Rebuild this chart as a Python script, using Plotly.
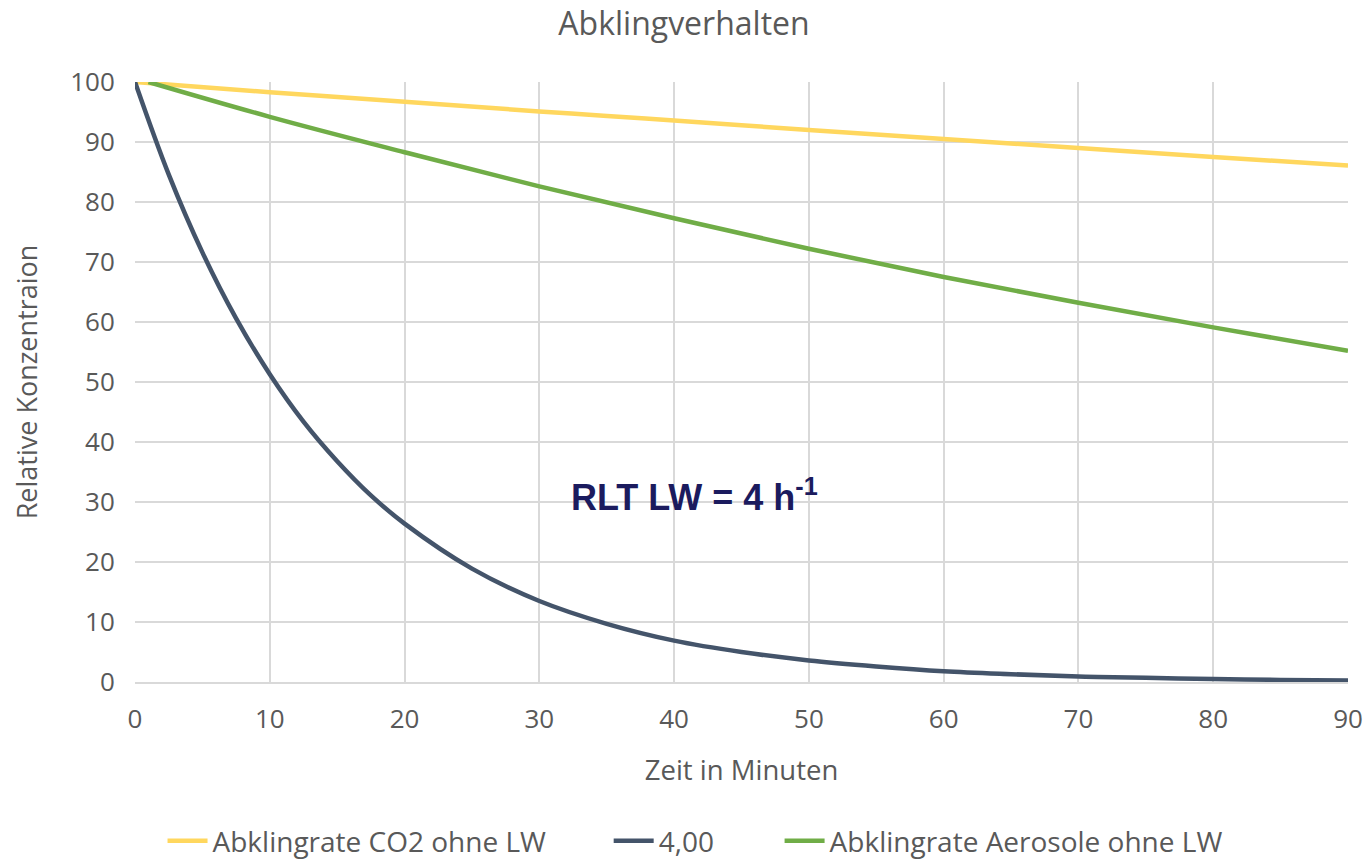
import plotly.graph_objects as go

# Data
x_co2 = [0, 10, 20, 30, 40, 50, 60, 70, 80, 90]
y_co2 = [100, 98.3, 96.7, 95.1, 93.6, 92.0, 90.5, 89.0, 87.5, 86.1]

x_dark = [0, 2.5, 5, 7.5, 10, 12.5, 15, 17.5, 20, 25, 30, 35, 40, 45, 50, 55, 60, 65, 70, 75, 80, 85, 90]
y_dark = [100, 84.6, 71.6, 60.6, 51.3, 43.4, 36.8, 31.1, 26.4, 18.9, 13.5, 9.7, 6.9, 5.0, 3.6, 2.6, 1.8, 1.3, 0.9, 0.7, 0.5, 0.35, 0.25]

x_aer = [1, 10, 20, 30, 40, 50, 60, 70, 80, 90]
y_aer = [100, 94.2, 88.3, 82.6, 77.3, 72.2, 67.5, 63.2, 59.1, 55.2]

names = ["Abklingrate CO2 ohne LW", "4,00", "Abklingrate Aerosole ohne LW"]
colors = ["#FFD75E", "#44546A", "#70AD47"]
legend_ids = ["legend", "legend2", "legend3"]
legend_x = [0.0227, 0.3905, 0.5314]

x_ticks = list(range(0, 91, 10))
y_ticks = list(range(0, 101, 10))

FONT = "'Open Sans', sans-serif"
GREY = "#595959"

fig = go.Figure()
for xs, ys, n, c, lg in zip([x_co2, x_dark, x_aer], [y_co2, y_dark, y_aer], names, colors, legend_ids):
    fig.add_trace(go.Scatter(x=xs, y=ys, mode="lines", name=n, legend=lg,
                             line=dict(color=c, width=4.5, shape="spline")))

fig.add_annotation(x=41.5, y=31.2, xref="x", yref="y",
                   text="<b>RLT LW = 4 h<sup>-1</sup></b>", showarrow=False,
                   font=dict(family="Arial, 'Liberation Sans', sans-serif", size=36, color="#1B1B5E"))

legend_common = dict(orientation="h", xanchor="left", y=-0.3067, yanchor="bottom",
                     font=dict(size=28, color=GREY, family=FONT), itemwidth=40,
                     bgcolor="rgba(0,0,0,0)")

fig.update_layout(
    width=1368, height=867,
    margin=dict(l=135, r=20, t=82, b=185, autoexpand=False),
    paper_bgcolor="white", plot_bgcolor="white",
    font=dict(family=FONT, color=GREY, size=26),
    title=dict(text="Abklingverhalten", x=0.5, xanchor="center", y=0.972, yanchor="middle",
               font=dict(size=32, color=GREY, family=FONT)),
    legend=dict(x=legend_x[0], **legend_common),
    legend2=dict(x=legend_x[1], **legend_common),
    legend3=dict(x=legend_x[2], **legend_common),
    showlegend=True,
)
fig.update_xaxes(range=[0, 90], tickvals=x_ticks, showgrid=True, gridcolor="#D9D9D9", gridwidth=1.5,
                 showline=True, linecolor="#D9D9D9", linewidth=1.5, zeroline=False, automargin=False,
                 ticks="outside", ticklen=13, tickcolor="rgba(0,0,0,0)",
                 tickfont=dict(size=26, color=GREY),
                 title=dict(text="Zeit in Minuten", font=dict(size=27.5, color=GREY), standoff=26))
fig.update_yaxes(range=[0, 100], tickvals=y_ticks, showgrid=True, gridcolor="#D9D9D9", gridwidth=1.5,
                 zeroline=False, showline=False, automargin=False,
                 ticks="outside", ticklen=14, tickcolor="rgba(0,0,0,0)",
                 tickfont=dict(size=26, color=GREY),
                 title=dict(text="Relative Konzentraion", font=dict(size=27, color=GREY), standoff=24))

fig.write_html("out.html")
